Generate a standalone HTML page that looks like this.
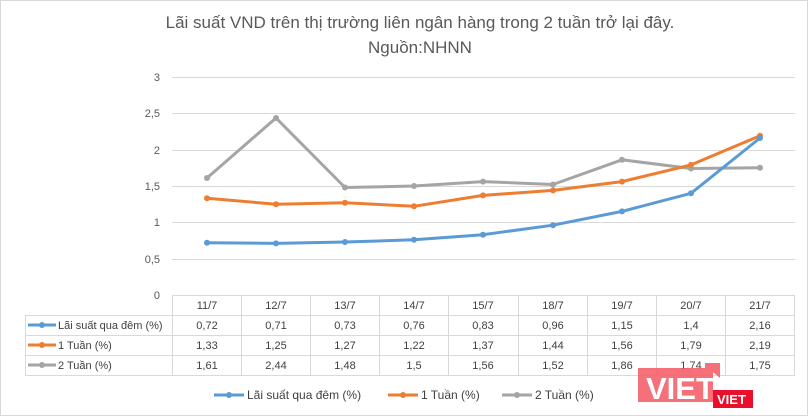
<!DOCTYPE html><html><head><style>body{margin:0;background:#fff}svg{display:block;font-family:"Liberation Sans",sans-serif}</style></head><body>
<svg width="810" height="419" xmlns="http://www.w3.org/2000/svg">
<rect x="0.5" y="0.5" width="807" height="415" fill="#fff" stroke="#d9d9d9"/>
<text x="420" y="28" font-size="17" fill="#595959" text-anchor="middle">Lãi suất VND trên thị trường liên ngân hàng trong 2 tuần trở lại đây.</text>
<text x="420" y="53" font-size="17" fill="#595959" text-anchor="middle">Nguồn:NHNN</text>
<g stroke="#d9d9d9" stroke-width="1">
<line x1="172" x2="795" y1="77.5" y2="77.5"/><line x1="172" x2="795" y1="113.5" y2="113.5"/><line x1="172" x2="795" y1="150.5" y2="150.5"/><line x1="172" x2="795" y1="186.5" y2="186.5"/><line x1="172" x2="795" y1="222.5" y2="222.5"/><line x1="172" x2="795" y1="259.5" y2="259.5"/><line x1="172" x2="795" y1="295.5" y2="295.5"/>
<line x1="25" x2="795" y1="315.5" y2="315.5"/><line x1="25" x2="795" y1="335.5" y2="335.5"/><line x1="25" x2="795" y1="355.5" y2="355.5"/><line x1="25" x2="795" y1="375.5" y2="375.5"/>
<line x1="25.5" x2="25.5" y1="315" y2="376"/>
<line x1="172.5" x2="172.5" y1="295" y2="376"/><line x1="241.5" x2="241.5" y1="295" y2="376"/><line x1="310.5" x2="310.5" y1="295" y2="376"/><line x1="379.5" x2="379.5" y1="295" y2="376"/><line x1="448.5" x2="448.5" y1="295" y2="376"/><line x1="518.5" x2="518.5" y1="295" y2="376"/><line x1="587.5" x2="587.5" y1="295" y2="376"/><line x1="656.5" x2="656.5" y1="295" y2="376"/><line x1="725.5" x2="725.5" y1="295" y2="376"/><line x1="794.5" x2="794.5" y1="295" y2="376"/>
</g>
<g font-size="11" fill="#595959" text-anchor="end">
<text x="160" y="81">3</text><text x="160" y="117">2,5</text><text x="160" y="154">2</text><text x="160" y="190">1,5</text><text x="160" y="226">1</text><text x="160" y="263">0,5</text><text x="160" y="299">0</text>
</g>
<g font-size="11" fill="#404040" text-anchor="middle">
<text x="207" y="309">11/7</text><text x="276" y="309">12/7</text><text x="345" y="309">13/7</text><text x="414" y="309">14/7</text><text x="483" y="309">15/7</text><text x="553" y="309">18/7</text><text x="622" y="309">19/7</text><text x="691" y="309">20/7</text><text x="760" y="309">21/7</text>
<text x="207" y="329">0,72</text><text x="276" y="329">0,71</text><text x="345" y="329">0,73</text><text x="414" y="329">0,76</text><text x="483" y="329">0,83</text><text x="553" y="329">0,96</text><text x="622" y="329">1,15</text><text x="691" y="329">1,4</text><text x="760" y="329">2,16</text>
<text x="207" y="349">1,33</text><text x="276" y="349">1,25</text><text x="345" y="349">1,27</text><text x="414" y="349">1,22</text><text x="483" y="349">1,37</text><text x="553" y="349">1,44</text><text x="622" y="349">1,56</text><text x="691" y="349">1,79</text><text x="760" y="349">2,19</text>
<text x="207" y="369">1,61</text><text x="276" y="369">2,44</text><text x="345" y="369">1,48</text><text x="414" y="369">1,5</text><text x="483" y="369">1,56</text><text x="553" y="369">1,52</text><text x="622" y="369">1,86</text><text x="691" y="369">1,74</text><text x="760" y="369">1,75</text>
</g>
<g font-size="11" fill="#404040">
<line x1="28" x2="56" y1="325" y2="325" stroke="#5b9bd5" stroke-width="3"/><circle cx="42" cy="325" r="3" fill="#5b9bd5"/><text x="58" y="329">Lãi suất qua đêm (%)</text>
<line x1="28" x2="56" y1="345" y2="345" stroke="#ed7d31" stroke-width="3"/><circle cx="42" cy="345" r="3" fill="#ed7d31"/><text x="58" y="349">1 Tuần (%)</text>
<line x1="28" x2="56" y1="365" y2="365" stroke="#a5a5a5" stroke-width="3"/><circle cx="42" cy="365" r="3" fill="#a5a5a5"/><text x="58" y="369">2 Tuần (%)</text>
</g>
<g fill="none" stroke-width="3" stroke-linejoin="round">
<polyline stroke="#a5a5a5" points="207,178 276,118 345,187.5 414,186 483,181.6 553,184.5 622,159.8 691,168.5 760,167.8"/>
<polyline stroke="#ed7d31" points="207,198.3 276,204.2 345,202.7 414,206.3 483,195.4 553,190.4 622,181.6 691,164.9 760,135.8"/>
<polyline stroke="#5b9bd5" points="207,242.7 276,243.4 345,242 414,239.8 483,234.7 553,225.2 622,211.4 691,193.3 760,138"/>
</g>
<g fill="#a5a5a5"><circle cx="207" cy="178" r="3"/><circle cx="276" cy="118" r="3"/><circle cx="345" cy="187.5" r="3"/><circle cx="414" cy="186" r="3"/><circle cx="483" cy="181.6" r="3"/><circle cx="553" cy="184.5" r="3"/><circle cx="622" cy="159.8" r="3"/><circle cx="691" cy="168.5" r="3"/><circle cx="760" cy="167.8" r="3"/></g>
<g fill="#ed7d31"><circle cx="207" cy="198.3" r="3"/><circle cx="276" cy="204.2" r="3"/><circle cx="345" cy="202.7" r="3"/><circle cx="414" cy="206.3" r="3"/><circle cx="483" cy="195.4" r="3"/><circle cx="553" cy="190.4" r="3"/><circle cx="622" cy="181.6" r="3"/><circle cx="691" cy="164.9" r="3"/><circle cx="760" cy="135.8" r="3"/></g>
<g fill="#5b9bd5"><circle cx="207" cy="242.7" r="3"/><circle cx="276" cy="243.4" r="3"/><circle cx="345" cy="242" r="3"/><circle cx="414" cy="239.8" r="3"/><circle cx="483" cy="234.7" r="3"/><circle cx="553" cy="225.2" r="3"/><circle cx="622" cy="211.4" r="3"/><circle cx="691" cy="193.3" r="3"/><circle cx="760" cy="138" r="3"/></g>
<g font-size="12" fill="#404040">
<line x1="214" x2="244" y1="395" y2="395" stroke="#5b9bd5" stroke-width="3"/><circle cx="229" cy="395" r="3" fill="#5b9bd5"/><text x="247" y="399">Lãi suất qua đêm (%)</text>
<line x1="388" x2="418" y1="395" y2="395" stroke="#ed7d31" stroke-width="3"/><circle cx="403" cy="395" r="3" fill="#ed7d31"/><text x="421" y="399">1 Tuần (%)</text>
<line x1="502" x2="532" y1="395" y2="395" stroke="#a5a5a5" stroke-width="3"/><circle cx="517" cy="395" r="3" fill="#a5a5a5"/><text x="535" y="399">2 Tuần (%)</text>
</g>
<rect x="638" y="368" width="75" height="34" fill="#f4606a" opacity="0.9"/>
<polygon points="705,363 720,363 720,378 713,372 713,368 705,368" fill="#f4606a" opacity="0.9"/>
<text x="646" y="399" font-size="31" font-weight="bold" fill="#fff">VIET</text>
<rect x="713" y="390" width="40" height="18" fill="#e8102a"/>
<text x="717" y="404" font-size="13" font-weight="bold" fill="#fff">VIET</text>
</svg></body></html>
